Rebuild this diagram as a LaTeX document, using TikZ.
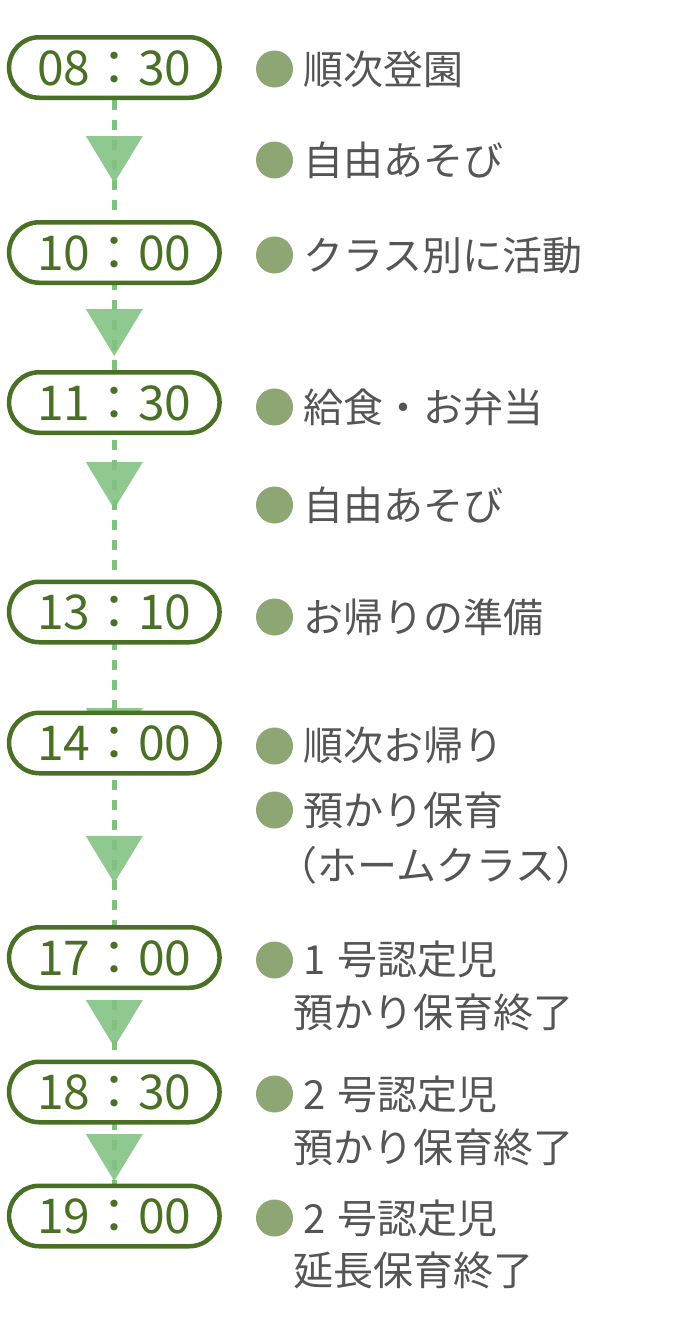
\documentclass[tikz,border=0pt]{standalone}
\usepackage{fontspec}
\setmainfont{Noto Sans CJK JP}
\usetikzlibrary{backgrounds}
\definecolor{pillgreen}{RGB}{74,112,38}
\definecolor{trigreen}{RGB}{144,201,144}
\definecolor{dashgreen}{RGB}{128,192,128}
\definecolor{dotgreen}{RGB}{141,166,115}
\definecolor{txtgray}{RGB}{85,85,85}
\tikzset{
  pill/.style={draw=pillgreen, line width=4.5pt, fill=white, rounded corners=30.25pt,
    minimum width=210.5pt, minimum height=60.5pt, inner sep=0pt,
    text=pillgreen, font=\fontsize{48}{56}\selectfont, text height=35.2pt, text depth=0pt},
  dotnode/.style={circle, fill=dotgreen, minimum size=37pt, inner sep=0pt},
  itemtxt/.style={anchor=base west, inner sep=0pt, text=txtgray, font=\fontsize{40}{48}\selectfont},
  tri/.style={fill=trigreen},
  dashline/.style={draw=dashgreen, line width=5pt, dash pattern=on 10pt off 10pt},
}
\begin{document}
\begin{tikzpicture}[x=1pt,y=-1pt]
\useasboundingbox (0,0) rectangle (700,1317);
% time pills
\node[pill] (p1) at (114.3,67.5) {08：30};
\node[pill] (p2) at (114.3,252.5) {10：00};
\node[pill] (p3) at (114.3,402.5) {11：30};
\node[pill] (p4) at (114.3,612) {13：10};
\node[pill] (p5) at (114.3,743) {14：00};
\node[pill] (p6) at (114.3,957.5) {17：00};
\node[pill] (p7) at (114.3,1092) {18：30};
\node[pill] (p8) at (114.3,1216) {19：00};
% triangles and dashed connector behind the pills
\begin{scope}[on background layer]
  \foreach \t in {136,309,462,708,836,1000,1134}{
    \fill[tri] (85.8,\t) -- (142.8,\t) -- (114.3,\t+47) -- cycle;
  }
  \draw[dashline] (p1.south) -- (p8.north);
\end{scope}
% bullets
\foreach \n/\y in {d1/69,d2/160,d3/255,d4/407,d5/505,d6/617,d7/746,d8/810,d9/960,d10/1094,d11/1218}{
  \node[dotnode] (\n) at (274.5,\y) {};
}
% texts
\node[itemtxt] (t1) at (303,84) {順次登園};
\node[itemtxt] (t2) at (303,175) {自由あそび};
\node[itemtxt] (t3) at (303,270) {クラス別に活動};
\node[itemtxt] (t4) at (303,422) {給食・お弁当};
\node[itemtxt] (t5) at (303,520) {自由あそび};
\node[itemtxt] (t6) at (303,632) {お帰りの準備};
\node[itemtxt] (t7) at (303,760) {順次お帰り};
\node[itemtxt] (t8) at (303,825) {預かり保育};
\node[itemtxt] (t9) at (277,880) {（ホームクラス）};
\node[itemtxt] (t10) at (303,974) {1\kern12pt 号認定児};
\node[itemtxt] (t11) at (293,1027) {預かり保育終了};
\node[itemtxt] (t12) at (303,1109) {2\kern12pt 号認定児};
\node[itemtxt] (t13) at (293,1162) {預かり保育終了};
\node[itemtxt] (t14) at (303,1233) {2\kern12pt 号認定児};
\node[itemtxt] (t15) at (293,1285) {延長保育終了};
\end{tikzpicture}
\end{document}
